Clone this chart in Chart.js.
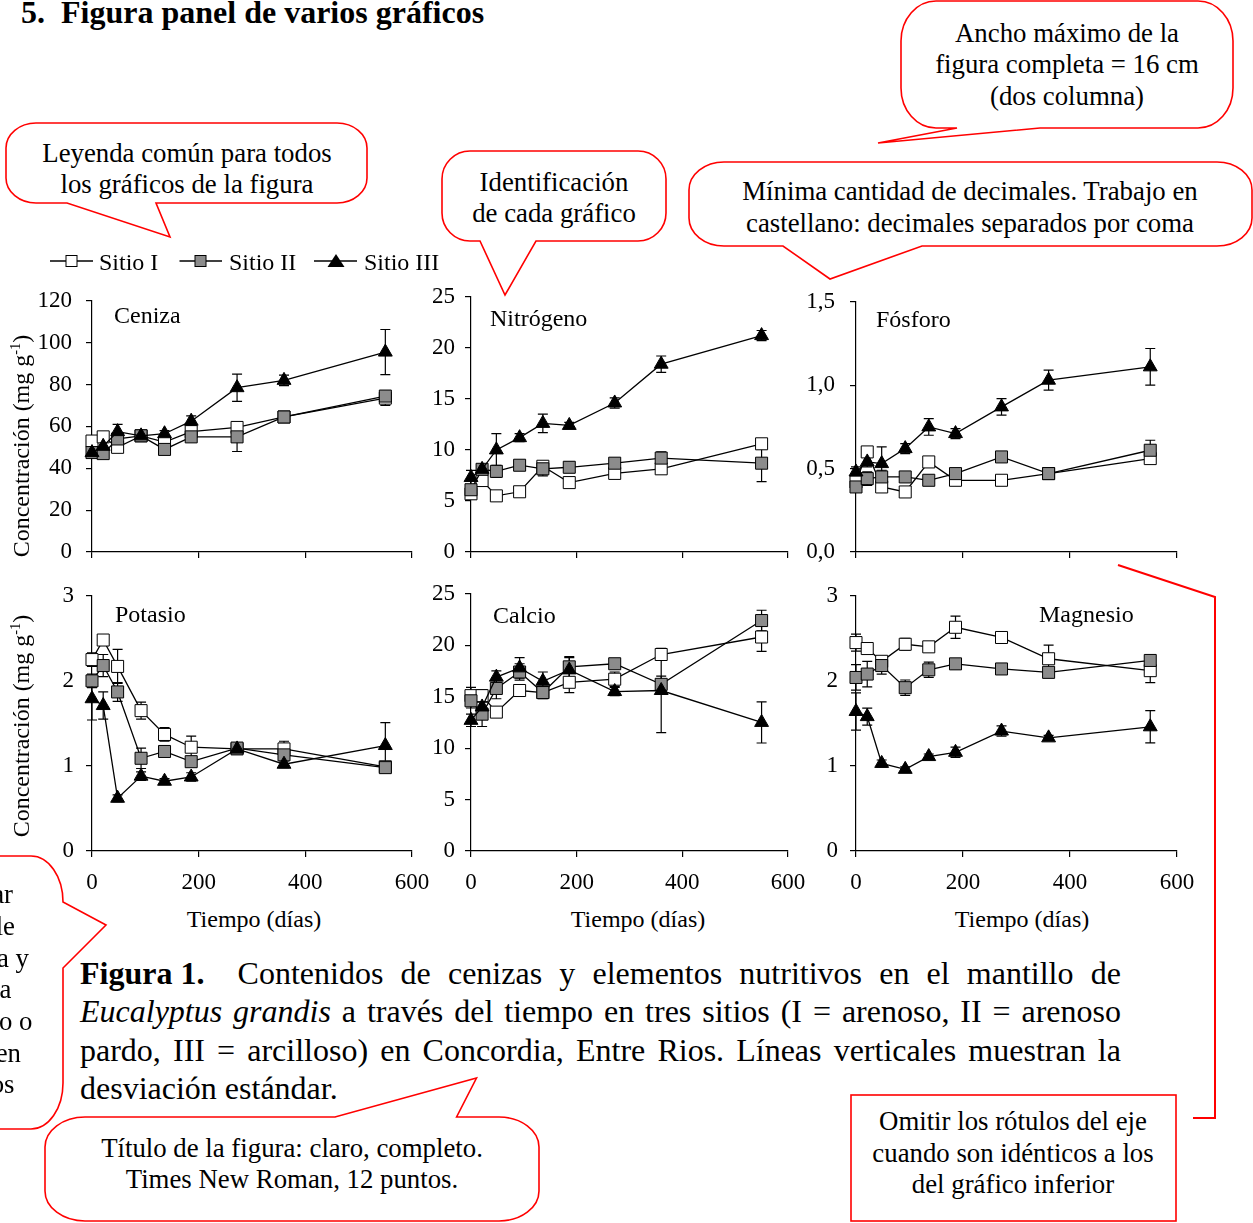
<!DOCTYPE html>
<html lang="es">
<head>
<meta charset="UTF-8">
<title>Figura panel de varios gráficos</title>
<style>
  html, body { margin: 0; padding: 0; background: #fff; }
  body { width: 1253px; height: 1223px; position: relative; overflow: hidden;
         font-family: "Liberation Serif", "Times New Roman", serif; color: #000; }
  canvas { position: absolute; }
  #overlay { position: absolute; left: 0; top: 0; }
  .t { position: absolute; line-height: 0; white-space: nowrap; }
  .cap { position: absolute; left: 80px; width: 1041px; line-height: 0; font-size: 32px; white-space: nowrap; }
  .just { display: flex; justify-content: space-between; }
  sup { font-size: 0.6em; line-height: 0; }
</style>
<script src="https://cdn.jsdelivr.net/npm/chart.js@4"></script>
</head>
<body>
<svg id="overlay" width="1253" height="1223"></svg>

<div class="cap just" style="top:972.7px"><span><b>Figura 1.</b>&nbsp;&nbsp;</span><span>Contenidos</span><span>de</span><span>cenizas</span><span>y</span><span>elementos</span><span>nutritivos</span><span>en</span><span>el</span><span>mantillo</span><span>de</span></div>
<div class="cap just" style="top:1011.2px"><span><i>Eucalyptus</i></span><span><i>grandis</i></span><span>a</span><span>través</span><span>del</span><span>tiempo</span><span>en</span><span>tres</span><span>sitios</span><span>(I</span><span>=</span><span>arenoso,</span><span>II</span><span>=</span><span>arenoso</span></div>
<div class="cap just" style="top:1049.7px"><span>pardo,</span><span>III</span><span>=</span><span>arcilloso)</span><span>en</span><span>Concordia,</span><span>Entre</span><span>Rios.</span><span>Líneas</span><span>verticales</span><span>muestran</span><span>la</span></div>
<div class="cap" style="top:1087.7px">desviación estándar.</div>

<script>
// Tiempo de muestreo (días) y marcas de los ejes
const dias = [0, 21, 48, 92, 136, 186, 272, 360, 550];
const ticksX = [0, 200, 400, 600];

// Ceniza (mg g-1)
const cenizaTicks = [0, 20, 40, 60, 80, 100, 120];
const cenizaI = [53, 55, 50, 55.5, 52.5, 57.5, 59.5, 64.5, 73.5];
const cenizaII = [47.5, 47, 54, 55.5, 49, 55, 55, 64.5, 74.5];
const cenizaIII = [47.5, 50.5, 57.5, 55.5, 56.5, 62.5, 78.5, 82, 95.5];
const cenizaErrI = [2, 2, 2, 1.5, 2, 2, 2, 1.5, 3.5];
const cenizaErrII = [2, 2, 2, 1.5, 2, 2, 7, 1.5, 1.5];
const cenizaErrIII = [2, 2, 3.5, 1, 1.5, 2.5, 6.5, 2.5, 10.8];

// Nitrógeno
const nitroTicks = [0, 5, 10, 15, 20, 25];
const nitroI = [5.7, 7.0, 5.5, 5.9, 8.4, 6.8, 7.7, 8.15, 10.6];
const nitroII = [6.1, 8.1, 7.9, 8.5, 8.15, 8.3, 8.7, 9.2, 8.7];
const nitroIII = [7.3, 8.1, 10.0, 11.2, 12.6, 12.4, 14.6, 18.4, 21.2];
const nitroErrI = [0.5, 0.5, 0.3, 0.3, 0.3, 0.3, 0.5, 0.3, 0.5];
const nitroErrII = [0.5, 0.4, 0.6, 0.4, 0.7, 0.5, 0.4, 0.6, 1.8];
const nitroErrIII = [0.7, 0.4, 1.6, 0.4, 0.9, 0.3, 0.5, 0.8, 0.5];

// Fósforo
const fosforoTicks = [0, 0.5, 1.0, 1.5];
const fosforoI = [0.42, 0.60, 0.39, 0.36, 0.54, 0.43, 0.43, 0.47, 0.56];
const fosforoII = [0.39, 0.44, 0.45, 0.45, 0.43, 0.47, 0.57, 0.47, 0.61];
const fosforoIII = [0.48, 0.54, 0.53, 0.62, 0.75, 0.71, 0.87, 1.03, 1.11];
const fosforoErrI = [0.02, 0.03, 0.03, 0.02, 0.02, 0.02, 0.02, 0.02, 0.02];
const fosforoErrII = [0.02, 0.04, 0.04, 0.02, 0.03, 0.02, 0.02, 0.02, 0.06];
const fosforoErrIII = [0.03, 0.03, 0.1, 0.03, 0.05, 0.03, 0.05, 0.06, 0.11];

// Potasio
const potasioTicks = [0, 1, 2, 3];
const potasioI = [2.25, 2.48, 2.17, 1.65, 1.37, 1.22, 1.20, 1.20, 0.99];
const potasioII = [2.0, 2.18, 1.87, 1.09, 1.17, 1.05, 1.21, 1.13, 0.98];
const potasioIII = [1.79, 1.71, 0.62, 0.88, 0.82, 0.87, 1.20, 1.02, 1.24];
const potasioErrI = [0.08, 0.06, 0.2, 0.1, 0.08, 0.13, 0.05, 0.09, 0.03];
const potasioErrII = [0.08, 0.13, 0.11, 0.12, 0.05, 0.05, 0.05, 0.05, 0.03];
const potasioErrIII = [0.25, 0.16, 0.04, 0.05, 0.03, 0.05, 0.05, 0.04, 0.27];

// Calcio
const calcioTicks = [0, 5, 10, 15, 20, 25];
const calcioI = [15.1, 15.1, 13.5, 15.6, 15.4, 16.4, 16.7, 19.1, 20.8];
const calcioII = [14.6, 13.3, 15.8, 17.4, 15.4, 17.9, 18.2, 16.2, 22.4];
const calcioIII = [12.7, 14.0, 16.9, 17.8, 16.5, 17.6, 15.5, 15.6, 12.5];
const calcioErrI = [0.8, 0.6, 0.5, 0.5, 0.5, 1.0, 0.7, 0.5, 1.4];
const calcioErrII = [0.7, 1.2, 1.0, 0.8, 0.6, 1.0, 0.5, 0.8, 1.0];
const calcioErrIII = [0.6, 0.6, 0.6, 1.0, 0.9, 1.2, 0.4, 4.1, 2.0];

// Magnesio
const magnesioTicks = [0, 1, 2, 3];
const magnesioI = [2.45, 2.38, 2.23, 2.43, 2.40, 2.63, 2.51, 2.26, 2.12];
const magnesioII = [2.04, 2.08, 2.18, 1.92, 2.13, 2.20, 2.14, 2.10, 2.24];
const magnesioIII = [1.64, 1.58, 1.03, 0.96, 1.11, 1.16, 1.41, 1.33, 1.46];
const magnesioErrI = [0.1, 0.05, 0.05, 0.07, 0.04, 0.13, 0.04, 0.16, 0.14];
const magnesioErrII = [0.15, 0.15, 0.1, 0.09, 0.09, 0.06, 0.04, 0.05, 0.04];
const magnesioErrIII = [0.22, 0.1, 0.04, 0.03, 0.03, 0.06, 0.06, 0.03, 0.19];

const sitios = ['Sitio I', 'Sitio II', 'Sitio III'];

const FONT = '"Liberation Serif", "Times New Roman", serif';

// barras de desviación estándar, dibujadas antes de las líneas y marcadores
const errorBars = {
  id: 'errorBars',
  beforeDatasetsDraw(chart) {
    const ctx = chart.ctx, xs = chart.scales.x, ys = chart.scales.y;
    ctx.save();
    ctx.strokeStyle = '#000';
    ctx.lineWidth = 1.2;
    chart.data.datasets.forEach(ds => {
      ds.data.forEach((p, i) => {
        const e = ds.errs[i];
        if (!e) return;
        const x = xs.getPixelForValue(p.x);
        const y1 = ys.getPixelForValue(p.y + e);
        const y2 = ys.getPixelForValue(p.y - e);
        ctx.beginPath();
        ctx.moveTo(x, y1); ctx.lineTo(x, y2);
        ctx.moveTo(x - 5, y1); ctx.lineTo(x + 5, y1);
        ctx.moveTo(x - 5, y2); ctx.lineTo(x + 5, y2);
        ctx.stroke();
      });
    });
    ctx.restore();
  }
};

const estilos = [
  { pointStyle: 'rect', fill: '#fff', radius: 8.5, order: 3 },
  { pointStyle: 'rect', fill: '#8c8c8c', radius: 8.5, order: 2 },
  { pointStyle: 'triangle', fill: '#000', radius: 8, order: 1 }
];

function panel(area, yTicks, series, errs, abajo, pad, fmt) {
  const [l, t, r, b] = area;
  const yw = 90, top = 20, right = 30, xh = abajo ? 50 : 8, bottom = abajo ? 0 : 24;
  const cv = document.createElement('canvas');
  cv.width = r - l + yw + right;
  cv.height = b - t + top + xh + bottom;
  cv.style.left = (l - yw) + 'px';
  cv.style.top = (t - top) + 'px';
  document.body.appendChild(cv);

  const datasets = series.map((vals, k) => ({
    label: sitios[k],
    data: vals.map((v, i) => ({ x: dias[i], y: v })),
    errs: errs[k],
    borderColor: '#000',
    borderWidth: 1.3,
    pointStyle: estilos[k].pointStyle,
    pointRadius: estilos[k].radius,
    pointBackgroundColor: estilos[k].fill,
    pointBorderColor: '#000',
    pointBorderWidth: 1,
    fill: false,
    tension: 0,
    clip: false,
    order: estilos[k].order
  }));

  const gridOpts = { drawOnChartArea: false, drawTicks: true, tickLength: 6, color: '#000', lineWidth: 1.2 };
  new Chart(cv, {
    type: 'line',
    data: { datasets },
    plugins: [errorBars],
    options: {
      responsive: false,
      animation: false,
      events: [],
      layout: { padding: { left: 0, top: top, right: right, bottom: bottom } },
      plugins: { legend: { display: false }, tooltip: { enabled: false } },
      scales: {
        x: {
          type: 'linear', min: 0, max: 600,
          afterBuildTicks: s => { s.ticks = ticksX.map(v => ({ value: v })); },
          afterFit: s => { s.height = xh; },
          ticks: { display: abajo, padding: 12, autoSkip: false, maxRotation: 0, color: '#000',
                   font: { family: FONT, size: 23 } },
          grid: gridOpts,
          border: { color: '#000', width: 1.2 }
        },
        y: {
          type: 'linear', min: yTicks[0], max: yTicks[yTicks.length - 1],
          afterBuildTicks: s => { s.ticks = yTicks.map(v => ({ value: v })); },
          afterFit: s => { s.width = yw; },
          ticks: { padding: pad, autoSkip: false, color: '#000', font: { family: FONT, size: 23 },
                   callback: v => fmt ? v.toFixed(1).replace('.', ',') : String(v) },
          grid: gridOpts,
          border: { color: '#000', width: 1.2 }
        }
      }
    }
  });
}

panel([92, 293, 412, 552], cenizaTicks, [cenizaI, cenizaII, cenizaIII],
      [cenizaErrI, cenizaErrII, cenizaErrIII], false, 14, false);
panel([471, 293, 788, 552], nitroTicks, [nitroI, nitroII, nitroIII],
      [nitroErrI, nitroErrII, nitroErrIII], false, 10, false);
panel([856, 293, 1177, 552], fosforoTicks, [fosforoI, fosforoII, fosforoIII],
      [fosforoErrI, fosforoErrII, fosforoErrIII], false, 15, true);
panel([92, 590, 412, 851], potasioTicks, [potasioI, potasioII, potasioIII],
      [potasioErrI, potasioErrII, potasioErrIII], true, 12, false);
panel([471, 590, 788, 851], calcioTicks, [calcioI, calcioII, calcioIII],
      [calcioErrI, calcioErrII, calcioErrIII], true, 10, false);
panel([856, 590, 1177, 851], magnesioTicks, [magnesioI, magnesioII, magnesioIII],
      [magnesioErrI, magnesioErrII, magnesioErrIII], true, 12, false);

// textos: x, línea base, tamaño
function txt(html, x, base, size, align, extra) {
  const d = document.createElement('div');
  d.className = 't';
  d.innerHTML = html;
  d.style.fontSize = size + 'px';
  d.style.top = (base - 0.3375 * size) + 'px';
  if (align === 'center') { d.style.left = x + 'px'; d.style.transform = 'translateX(-50%)'; }
  else if (align === 'right') { d.style.right = (1253 - x) + 'px'; }
  else d.style.left = x + 'px';
  if (extra) Object.assign(d.style, extra);
  document.body.appendChild(d);
  return d;
}

txt('<b>5.&nbsp; Figura panel de varios gráficos</b>', 21, 23, 32);

// nombres de los paneles
txt('Ceniza', 114, 323.5, 24);
txt('Nitrógeno', 490, 326.5, 24);
txt('Fósforo', 876, 327, 24);
txt('Potasio', 115, 622, 24);
txt('Calcio', 493, 623, 24);
txt('Magnesio', 1039, 622, 24);

// títulos de ejes
[254, 638, 1022].forEach(x => txt('Tiempo (días)', x, 927.5, 24, 'center'));
[446, 726].forEach(cy => {
  const d = txt('Concentración (mg g<sup>-1</sup>)', 0, 0, 24, 'left',
    { width: '300px', textAlign: 'center', transformOrigin: '0 0', transform: 'rotate(-90deg)' });
  d.style.top = (cy + 150) + 'px';
  d.style.left = '15px';
});

// leyenda común
txt('Sitio I', 99, 270, 24);
txt('Sitio II', 229, 270, 24);
txt('Sitio III', 364, 270, 24);

// textos de los globos
const FB = 26.8;
txt('Leyenda común para todos', 187, 161.7, FB, 'center');
txt('los gráficos de la figura', 187, 193.5, FB, 'center');
txt('Identificación', 554, 191, FB, 'center');
txt('de cada gráfico', 554, 222.5, FB, 'center');
txt('Ancho máximo de la', 1067, 41.7, FB, 'center');
txt('figura completa = 16 cm', 1067, 73.3, FB, 'center');
txt('(dos columna)', 1067, 105, FB, 'center');
txt('Mínima cantidad de decimales. Trabajo en', 970, 200, FB, 'center');
txt('castellano: decimales separados por coma', 970, 231.7, FB, 'center');
txt('Título de la figura: claro, completo.', 292, 1156.7, FB, 'center');
txt('Times New Roman, 12 puntos.', 292, 1188.3, FB, 'center');
txt('Omitir los rótulos del eje', 1013, 1130, FB, 'center');
txt('cuando son idénticos a los', 1013, 1161.7, FB, 'center');
txt('del gráfico inferior', 1013, 1193.3, FB, 'center');
[['ar', 13, 903], ['le', 15, 935], ['a y', 29, 966.7], ['a', 11.5, 998.3],
 ['o o', 32.5, 1030], ['en', 21, 1061.7], ['os', 14.5, 1093.3]]
  .forEach(([s, x, y]) => txt(s, x, y, FB, 'right'));

// globos rojos y marcas de leyenda
const svg = document.getElementById('overlay');
function el(tag, attrs) {
  const e = document.createElementNS('http://www.w3.org/2000/svg', tag);
  for (const k in attrs) e.setAttribute(k, attrs[k]);
  svg.appendChild(e);
  return e;
}
function bubble(x1, y1, x2, y2, rx, ry, side, b1, b2, tx, ty) {
  const A = (x, y) => `A ${rx} ${ry} 0 0 1 ${x} ${y}`;
  let d = `M ${x1 + rx} ${y1} `;
  if (side === 'top') d += `H ${b1} L ${tx} ${ty} L ${b2} ${y1} `;
  d += `H ${x2 - rx} ${A(x2, y1 + ry)} `;
  if (side === 'right') d += `V ${b1} L ${tx} ${ty} L ${x2} ${b2} `;
  d += `V ${y2 - ry} ${A(x2 - rx, y2)} `;
  if (side === 'bottom') d += `H ${b2} L ${tx} ${ty} L ${b1} ${y2} `;
  d += `H ${x1 + rx} ${A(x1, y2 - ry)} V ${y1 + ry} ${A(x1 + rx, y1)} Z`;
  el('path', { d, fill: '#fff', stroke: '#f00', 'stroke-width': 1.6 });
}
bubble(6, 123, 367, 203, 30, 25, 'bottom', 67, 156, 170, 237);
bubble(442, 151, 666, 241, 28, 28, 'bottom', 480, 536, 505, 295);
bubble(901, 1, 1233, 128, 35, 40, 'bottom', 957, 1040, 878, 143);
bubble(689, 162, 1252, 246, 35, 28, 'bottom', 783, 922, 830, 279);
bubble(-60, 856, 63, 1129, 32, 46, 'right', 902, 968, 106, 925);
bubble(45, 1117, 539, 1221, 40, 30, 'top', 335, 456.6, 476.5, 1078);
el('rect', { x: 851, y: 1095, width: 325, height: 126, fill: '#fff', stroke: '#f00', 'stroke-width': 1.6 });
el('polyline', { points: '1118,565 1215,597 1215,1118 1193,1118', fill: 'none', stroke: '#f00', 'stroke-width': 2 });

el('line', { x1: 50, y1: 261, x2: 93, y2: 261, stroke: '#000', 'stroke-width': 1.3 });
el('rect', { x: 66, y: 255.5, width: 11, height: 11, fill: '#fff', stroke: '#000', 'stroke-width': 1 });
el('line', { x1: 179.5, y1: 261, x2: 222, y2: 261, stroke: '#000', 'stroke-width': 1.3 });
el('rect', { x: 195, y: 255.5, width: 11, height: 11, fill: '#8c8c8c', stroke: '#000', 'stroke-width': 1 });
el('line', { x1: 314, y1: 261, x2: 357, y2: 261, stroke: '#000', 'stroke-width': 1.3 });
el('polygon', { points: '336,254 327.5,267 344.5,267', fill: '#000' });
</script>
</body>
</html>
